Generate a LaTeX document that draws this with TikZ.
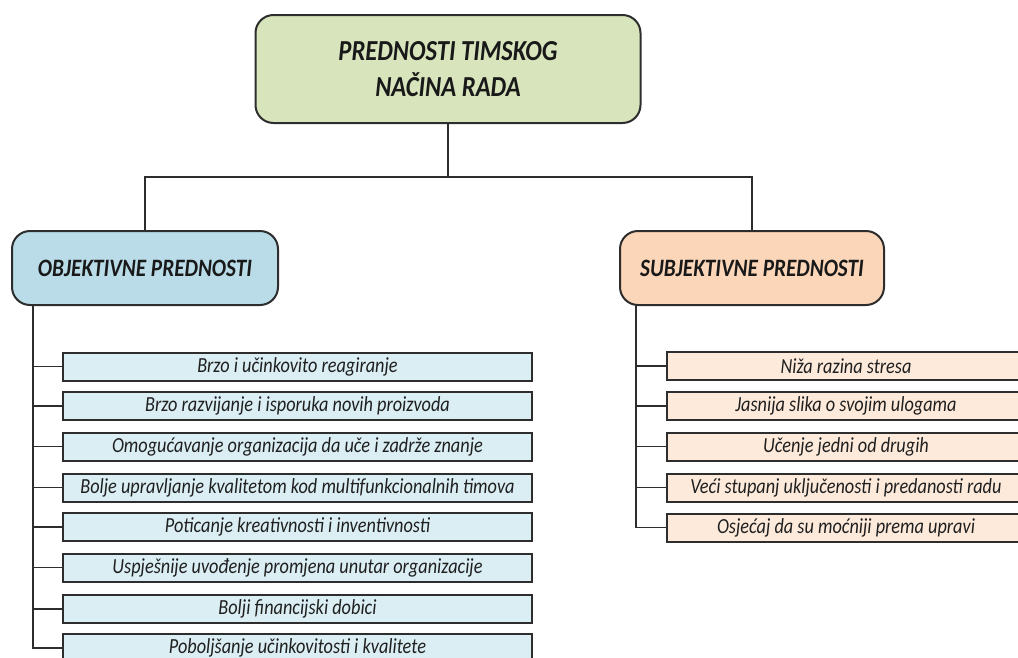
\documentclass[tikz,border=0pt]{standalone}
\usepackage{fontspec}
\setmainfont{Carlito}
\newfontfamily\cf[FakeStretch=0.85]{Carlito}
\usetikzlibrary{positioning}
\definecolor{topfill}{RGB}{216,228,188}
\definecolor{objfill}{RGB}{186,220,233}
\definecolor{subfill}{RGB}{251,214,184}
\definecolor{litemfill}{RGB}{218,238,244}
\definecolor{ritemfill}{RGB}{253,234,219}
\definecolor{edge}{RGB}{45,45,45}
\tikzset{
  x=1pt,y=-1pt,
  conn/.style={draw=edge,line width=1.4pt},
  headbox/.style={draw=edge,line width=2pt,rounded corners=18pt,inner sep=0pt,align=center,font=\cf\bfseries\itshape,text=black!90},
  itembox/.style={draw=edge,line width=2pt,inner sep=0pt,minimum height=28pt,font=\cf\itshape\fontsize{21.5}{24}\selectfont,text=black!88},
  litem/.style={itembox,fill=litemfill,minimum width=469pt},
  ritem/.style={itembox,fill=ritemfill,minimum width=358pt},
}
\begin{document}
\begin{tikzpicture}
\useasboundingbox (0,0) rectangle (1018,657);
\node[headbox,fill=topfill,minimum width=385pt,minimum height=108pt,font=\cf\bfseries\itshape\fontsize{29}{36}\selectfont] (top) at (448,69) {PREDNOSTI TIMSKOG\\NAČINA RADA};
\node[headbox,fill=objfill,minimum width=266pt,minimum height=74pt,font=\cf\bfseries\itshape\fontsize{25}{28}\selectfont] (obj) at (145,268) {OBJEKTIVNE PREDNOSTI};
\node[headbox,fill=subfill,minimum width=264pt,minimum height=74pt,font=\cf\bfseries\itshape\fontsize{25}{28}\selectfont] (sub) at (752,268) {SUBJEKTIVNE PREDNOSTI};
\coordinate (bus) at (448,177);
\draw[conn] (top.south) -- (bus);
\draw[conn] (bus) -| (obj.north);
\draw[conn] (bus) -| (sub.north);
% left items
\node[litem] (o1) at (297.5,366.5) {Brzo i učinkovito reagiranje};
\node[litem] (o2) at (297.5,406) {Brzo razvijanje i isporuka novih proizvoda};
\node[litem] (o3) at (297.5,446.5) {Omogućavanje organizacija da uče i zadrže znanje};
\node[litem] (o4) at (297.5,487.5) {Bolje upravljanje kvalitetom kod multifunkcionalnih timova};
\node[litem] (o5) at (297.5,527) {Poticanje kreativnosti i inventivnosti};
\node[litem] (o6) at (297.5,567.5) {Uspješnije uvođenje promjena unutar organizacije};
\node[litem] (o7) at (297.5,609) {Bolji financijski dobici};
\node[litem] (o8) at (297.5,648) {Poboljšanje učinkovitosti i kvalitete};
\coordinate (ls) at (33,305);
\draw[conn] (ls) |- (o8.west);
\foreach \i in {1,...,7} \draw[conn] (ls |- o\i.west) -- (o\i.west);
% right items
\node[ritem] (s1) at (846,366) {Niža razina stresa};
\node[ritem] (s2) at (846,406) {Jasnija slika o svojim ulogama};
\node[ritem] (s3) at (846,446.5) {Učenje jedni od drugih};
\node[ritem] (s4) at (846,487.5) {Veći stupanj uključenosti i predanosti radu};
\node[ritem] (s5) at (846,527.5) {Osjećaj da su moćniji prema upravi};
\coordinate (rs) at (636,305);
\draw[conn] (rs) |- (s5.west);
\foreach \i in {1,...,4} \draw[conn] (rs |- s\i.west) -- (s\i.west);
\end{tikzpicture}
\end{document}
